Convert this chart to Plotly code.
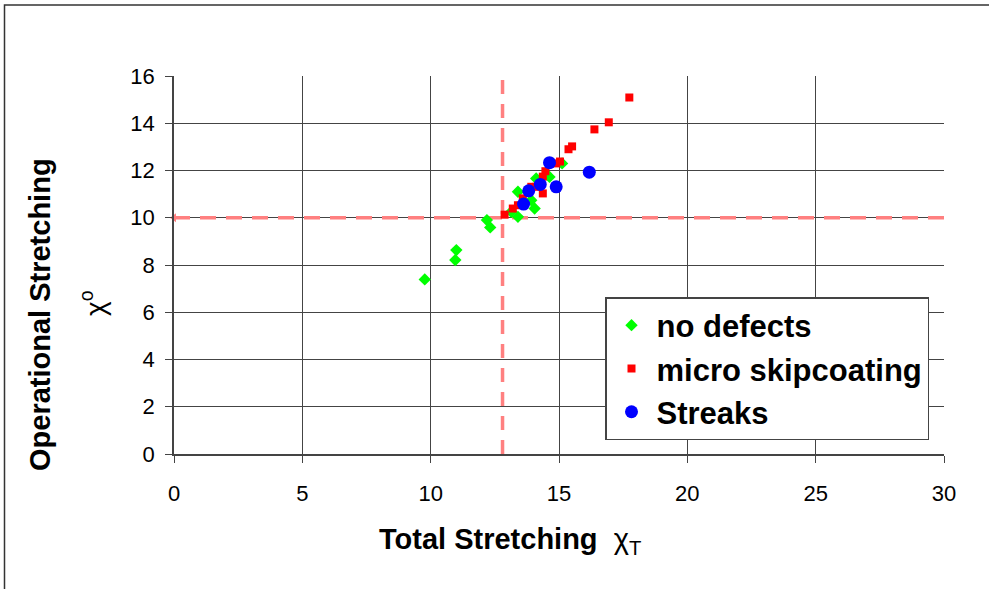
import plotly.graph_objects as go

# ---- data ----
no_defects_x = [9.77, 11.0, 10.96, 12.19, 12.32, 13.14, 13.40, 13.40, 13.92, 14.05, 14.11, 14.63, 15.12]
no_defects_y = [7.39, 8.63, 8.21, 9.90, 9.59, 10.25, 10.04, 11.10, 10.74, 10.39, 11.66, 11.73, 12.30]

micro_x = [17.74, 16.94, 16.38, 15.51, 15.37, 15.04, 14.89, 14.47, 14.37, 14.37, 14.11, 13.92, 13.59, 13.40, 13.20, 12.88]
micro_y = [15.09, 14.04, 13.74, 13.02, 12.90, 12.38, 12.30, 11.97, 11.74, 11.03, 11.31, 11.31, 10.82, 10.53, 10.39, 10.13]

streaks_x = [14.63, 16.18, 14.27, 14.89, 13.82, 13.62]
streaks_y = [12.33, 11.93, 11.41, 11.31, 11.14, 10.58]

# threshold reference lines
threshold_x = 12.8
threshold_y = 10.0
x_range = [0, 30]
y_range = [0, 16]
x_ticks = [0, 5, 10, 15, 20, 25, 30]
y_ticks = [0, 2, 4, 6, 8, 10, 12, 14, 16]

FONT = "Liberation Sans, Arial, sans-serif"
DASH_COLOR = "#FF8080"
GRID = "#444444"

fig = go.Figure()

# dashed threshold lines (below markers)
fig.add_trace(go.Scatter(x=[threshold_x, threshold_x], y=y_range, mode="lines",
                         line=dict(color=DASH_COLOR, width=3.5, dash="14px,10px"),
                         showlegend=False, hoverinfo="skip", cliponaxis=False))
fig.add_trace(go.Scatter(x=x_range, y=[threshold_y, threshold_y], mode="lines",
                         line=dict(color=DASH_COLOR, width=3.5, dash="16px,10px"),
                         showlegend=False, hoverinfo="skip", cliponaxis=False))
fig.add_trace(go.Scatter(x=[x_range[0]], y=[threshold_y], mode="markers",
                         marker=dict(symbol="triangle-left", size=8, color=DASH_COLOR),
                         showlegend=False, hoverinfo="skip", cliponaxis=False))

fig.add_trace(go.Scatter(x=no_defects_x, y=no_defects_y, mode="markers", name="<b>no defects</b>",
                         marker=dict(symbol="diamond", size=9.5, color="#00FF00")))
fig.add_trace(go.Scatter(x=micro_x, y=micro_y, mode="markers", name="<b>micro skipcoating</b>",
                         marker=dict(symbol="square", size=8, color="#FF0000")))
fig.add_trace(go.Scatter(x=streaks_x, y=streaks_y, mode="markers", name="<b>Streaks</b>",
                         marker=dict(symbol="circle", size=13, color="#0000FF")))

L, R, T, B = 174, 989 - 944, 76, 589 - 454
PW = 989 - L - R
PH = 589 - T - B

def px_x(p):
    return (p - L) / PW

def px_y(p):
    return (589 - B - p) / PH

axis_common = dict(showgrid=True, gridcolor=GRID, gridwidth=1, zeroline=False,
                   showline=True, linecolor=GRID, linewidth=1.5,
                   ticks="outside", ticklen=7, tickcolor=GRID, tickwidth=1,
                   tickfont=dict(family=FONT, size=22, color="#000000"))

fig.update_layout(
    width=989, height=589,
    margin=dict(l=L, r=R, t=T, b=B),
    paper_bgcolor="white", plot_bgcolor="white",
    font=dict(family=FONT, color="#000000"),
    xaxis=dict(range=x_range, tickvals=x_ticks, ticklabelstandoff=12, **axis_common),
    yaxis=dict(range=y_range, tickvals=y_ticks, ticklabelstandoff=6, **axis_common),
    legend=dict(x=px_x(605), y=px_y(297), xanchor="left", yanchor="top",
                bgcolor="white", bordercolor="#444444", borderwidth=1.5,
                font=dict(family=FONT, size=31, color="#000000"),
                itemsizing="trace", itemwidth=40, tracegroupgap=0),
    showlegend=True,
)

# axis titles as annotations
fig.add_annotation(x=px_x(510), y=px_y(541), xref="paper", yref="paper",
                   xanchor="center", yanchor="middle",
                   text="<b>Total Stretching</b>  χ<sub>T</sub>", showarrow=False,
                   font=dict(family=FONT, size=29, color="#000000"))
fig.add_annotation(x=px_x(40), y=px_y(315), xref="paper", yref="paper",
                   xanchor="center", yanchor="middle",
                   text="<b>Operational Stretching</b>", textangle=-90, showarrow=False,
                   font=dict(family=FONT, size=29, color="#000000"))
fig.add_annotation(x=px_x(93), y=px_y(303), xref="paper", yref="paper",
                   xanchor="center", yanchor="middle",
                   text="χ<sup>o</sup>", textangle=-90, showarrow=False,
                   font=dict(family=FONT, size=28, color="#000000"))

# outer chart-area border (top and left visible)
fig.add_shape(type="rect", xref="paper", yref="paper",
              x0=px_x(4.5), y0=px_y(700), x1=px_x(1100), y1=px_y(5),
              line=dict(color="#333333", width=1.5), fillcolor="rgba(0,0,0,0)", layer="above")

fig.write_html("out.html")
